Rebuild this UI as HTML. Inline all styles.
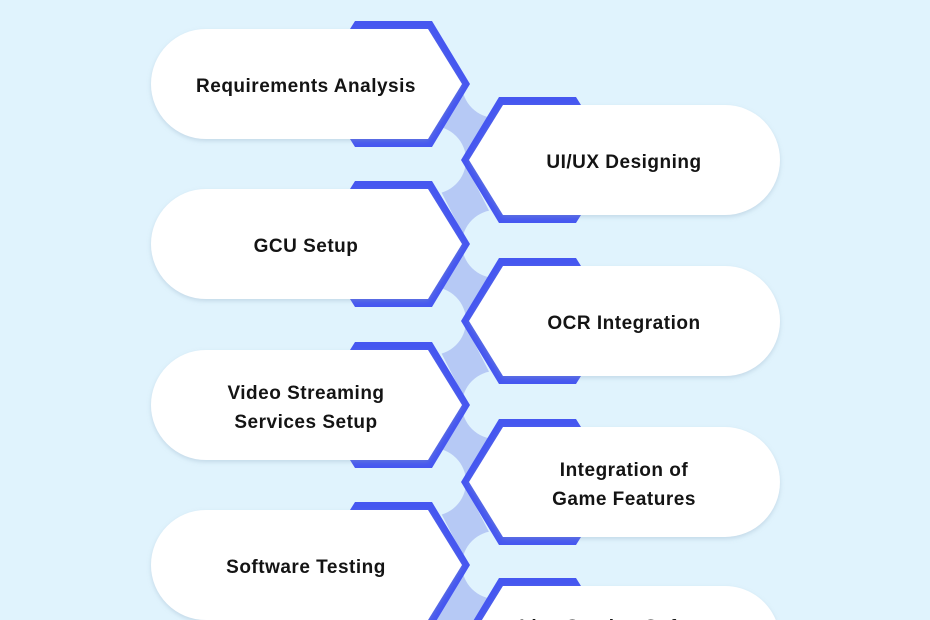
<!DOCTYPE html>
<html>
<head>
<meta charset="utf-8">
<style>
html,body{margin:0;padding:0;background:#e0f3fd;width:930px;height:620px;overflow:hidden;}
svg{display:block;overflow:hidden;}
text{font-family:"Liberation Sans",Arial,sans-serif;font-weight:bold;font-size:19px;letter-spacing:0.5px;fill:#141414;text-anchor:middle;}
</style>
</head>
<body>
<svg width="930" height="620" viewBox="0 0 930 620" xmlns="http://www.w3.org/2000/svg">
<defs>
<filter id="sh" x="-10%" y="-20%" width="120%" height="150%">
<feDropShadow dx="0" dy="2" stdDeviation="2.5" flood-color="#8aa6bf" flood-opacity="0.35"/>
</filter>
</defs>
<rect x="0" y="0" width="930" height="620" fill="#e0f3fd"/>

<!-- connector band -->
<polyline points="487,84 444,160 487,244 444,321 487,405 444,482 487,565" fill="none" stroke="#b6c9f5" stroke-width="34" stroke-linejoin="bevel"/>
<polygon points="466,565 510,565 477,620 433,620" fill="#b6c9f5"/>

<!-- blobs -->
<g fill="#e0f3fd">
<circle cx="496" cy="84" r="34"/>
<circle cx="496" cy="244" r="34"/>
<circle cx="496" cy="405" r="34"/>
<circle cx="496" cy="565" r="34"/>
<circle cx="432" cy="160" r="34"/>
<circle cx="432" cy="321" r="34"/>
<circle cx="432" cy="482" r="34"/>
</g>

<!-- left nodes -->
<path d="M350,29 L355,21 L432,21 L470,84 L432,147 L355,147 L350,139 Z" fill="#4657f0"/>
<path d="M206,29 L428,29 L462,84 L428,139 L206,139 A55,55 0 0 1 206,29 Z" fill="#fff" filter="url(#sh)"/>

<path d="M350,189 L355,181 L432,181 L470,244 L432,307 L355,307 L350,299 Z" fill="#4657f0"/>
<path d="M206,189 L428,189 L462,244 L428,299 L206,299 A55,55 0 0 1 206,189 Z" fill="#fff" filter="url(#sh)"/>

<path d="M350,350 L355,342 L432,342 L470,405 L432,468 L355,468 L350,460 Z" fill="#4657f0"/>
<path d="M206,350 L428,350 L462,405 L428,460 L206,460 A55,55 0 0 1 206,350 Z" fill="#fff" filter="url(#sh)"/>

<path d="M350,510 L355,502 L432,502 L470,565 L436.8,620 L350,620 Z" fill="#4657f0"/>
<path d="M206,510 L428,510 L462,565 L428,620 L206,620 A55,55 0 0 1 206,510 Z" fill="#fff" filter="url(#sh)"/>

<!-- right nodes -->
<path d="M581,105 L576,97 L499,97 L461,160 L499,223 L576,223 L581,215 Z" fill="#4657f0"/>
<path d="M725,105 L503,105 L469,160 L503,215 L725,215 A55,55 0 0 0 725,105 Z" fill="#fff" filter="url(#sh)"/>

<path d="M581,266 L576,258 L499,258 L461,321 L499,384 L576,384 L581,376 Z" fill="#4657f0"/>
<path d="M725,266 L503,266 L469,321 L503,376 L725,376 A55,55 0 0 0 725,266 Z" fill="#fff" filter="url(#sh)"/>

<path d="M581,427 L576,419 L499,419 L461,482 L499,545 L576,545 L581,537 Z" fill="#4657f0"/>
<path d="M725,427 L503,427 L469,482 L503,537 L725,537 A55,55 0 0 0 725,427 Z" fill="#fff" filter="url(#sh)"/>

<path d="M581,586 L576,578 L499,578 L473.7,620 L482,620 L503,586 Z" fill="#4657f0"/>
<path d="M725,586 L503,586 L482,620 L775.8,620 A55,55 0 0 0 725,586 Z" fill="#fff" filter="url(#sh)"/>

<!-- labels -->
<text x="306" y="92">Requirements Analysis</text>
<text x="306" y="252">GCU Setup</text>
<text x="306" y="399">Video Streaming</text>
<text x="306" y="428">Services Setup</text>
<text x="306" y="573">Software Testing</text>

<text x="624" y="168">UI/UX Designing</text>
<text x="624" y="329">OCR Integration</text>
<text x="624" y="476">Integration of</text>
<text x="624" y="505">Game Features</text>
<text x="624" y="633">Live Gaming Software</text>
</svg>
</body>
</html>
